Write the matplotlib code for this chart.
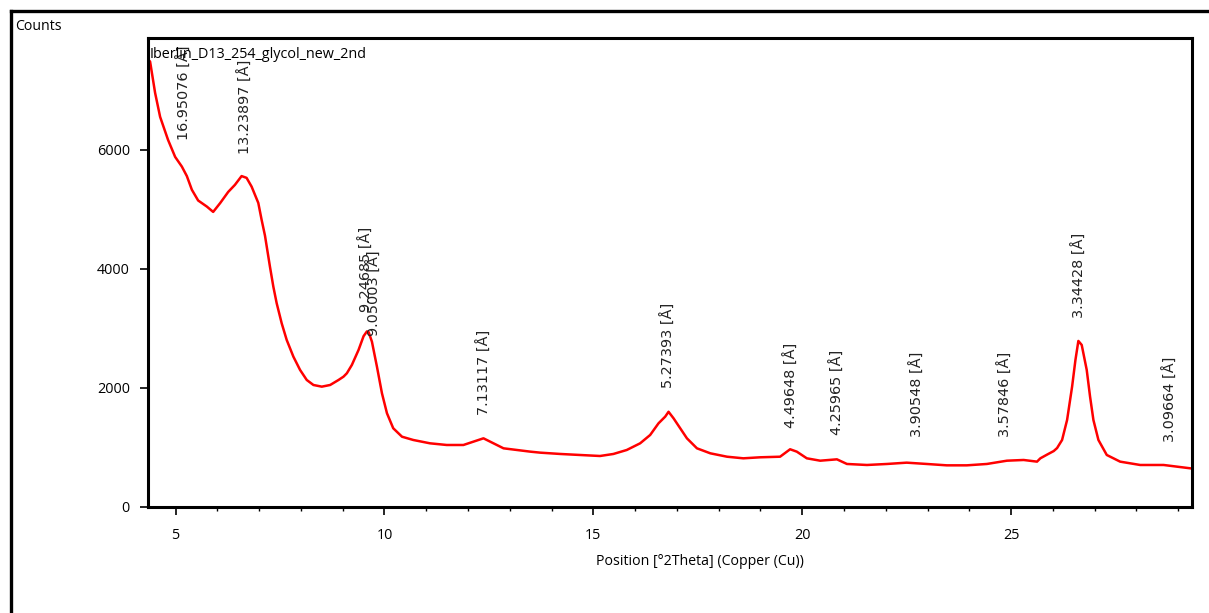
import matplotlib
matplotlib.use("Agg")
import matplotlib.pyplot as plt
from matplotlib.lines import Line2D
from matplotlib.ticker import MultipleLocator

# diffractogram (2theta in degrees, counts)
two_theta = [4.34, 4.39, 4.51, 4.63, 4.82, 4.99, 5.15, 5.27, 5.39, 5.54, 5.75, 5.90,
             6.07, 6.26, 6.42, 6.58, 6.70, 6.82, 6.98, 7.06, 7.14, 7.26, 7.34, 7.42,
             7.54, 7.66, 7.82, 7.98, 8.14, 8.30, 8.50, 8.70, 8.90, 9.02, 9.10, 9.22,
             9.38, 9.50, 9.58, 9.62, 9.70, 9.82, 9.94, 10.06, 10.21, 10.42, 10.69,
             11.09, 11.49, 11.89, 12.13, 12.37, 12.61, 12.85, 13.17, 13.49, 13.73,
             14.21, 14.68, 15.16, 15.48, 15.80, 16.12, 16.36, 16.56, 16.72, 16.80,
             16.92, 17.08, 17.24, 17.48, 17.80, 18.20, 18.59, 18.99, 19.47, 19.71,
             19.87, 20.11, 20.43, 20.83, 21.07, 21.55, 22.03, 22.50, 22.98, 23.46,
             23.94, 24.42, 24.90, 25.30, 25.62, 25.70, 25.86, 26.02, 26.10, 26.22,
             26.34, 26.46, 26.54, 26.61, 26.69, 26.81, 26.89, 26.97, 27.09, 27.29,
             27.61, 28.09, 28.65, 28.97, 29.29]
counts = [7520, 7484, 6958, 6555, 6168, 5882, 5720, 5560, 5330, 5150, 5047, 4958,
          5109, 5294, 5412, 5560, 5530, 5383, 5109, 4824, 4560, 4034, 3703, 3424,
          3087, 2807, 2526, 2303, 2134, 2050, 2022, 2050, 2134, 2190, 2247, 2387,
          2639, 2870, 2950, 2940, 2778, 2358, 1911, 1575, 1323, 1181, 1126,
          1070, 1042, 1042, 1098, 1154, 1070, 986, 958, 930, 913,
          891, 874, 857, 891, 958, 1070, 1210, 1406, 1518, 1600,
          1490, 1322, 1154, 986, 902, 845, 818, 835, 845, 970,
          930, 818, 778, 801, 723, 706, 723, 745, 723, 700,
          700, 723, 778, 790, 762, 818, 880, 940, 990, 1126,
          1462, 2022, 2471, 2790, 2723, 2303, 1854, 1462, 1126, 874,
          762, 706, 706, 678, 650]

# peak list: d-spacings, their 2theta positions and label heights (counts)
peak_d = ["16.95076", "13.23897", "9.24685", "9.05003", "7.13117", "5.27393",
          "4.49648", "4.25965", "3.90548", "3.57846", "3.34428", "3.09664"]
peak_pos = [5.209, 6.671, 9.557, 9.765, 12.402, 16.797,
            19.727, 20.837, 22.751, 24.861, 26.633, 28.807]
peak_counts = [5800, 5550, 2910, 2505, 1176, 1630,
               958, 840, 807, 807, 2807, 723]

plt.rcParams['font.family'] = ['Open Sans', 'DejaVu Sans']

fig = plt.figure(figsize=(12.09, 6.13), dpi=100)
ax = fig.add_axes([148 / 1209, 1 - 507 / 613, 1044 / 1209, 469 / 613])

ax.plot(two_theta, counts, color='#ff0000', lw=1.8)

for d, x, c in zip(peak_d, peak_pos, peak_counts):
    ax.annotate(d + " [Å]", xy=(x, c), xytext=(0, 16), textcoords='offset points',
                rotation=90, ha='center', va='bottom', fontsize=10.4,
                family='DejaVu Sans', color='#222222')

ax.set_xlim(4.34, 29.33)
ax.set_ylim(0, 7880)
ax.set_yticks([0, 2000, 4000, 6000])
ax.xaxis.set_major_locator(MultipleLocator(5))
ax.xaxis.set_minor_locator(MultipleLocator(1))

for sp in ax.spines.values():
    sp.set_linewidth(2.2)
ax.tick_params(axis='both', which='major', length=6, width=1.2, labelsize=10.4, pad=7)
ax.tick_params(axis='x', which='major', pad=9)
ax.tick_params(axis='x', which='minor', length=3, width=1.0)
ax.tick_params(axis='y', which='minor', length=0)

ax.set_xlabel("Position [°2Theta] (Copper (Cu))", fontsize=10.2)
ax.xaxis.set_label_coords(0.529, -0.1)

ax.text(0.002, 0.964, "Iberlin_D13_254_glycol_new_2nd", transform=ax.transAxes,
        ha='left', va='center', fontsize=10.4)
fig.text(15 / 1209, 1 - 26 / 613, "Counts", ha='left', va='center', fontsize=10.2)

# outer frame, cut off at the right and bottom edges
fx, fy = 11 / 1209, 1 - 11 / 613
fig.add_artist(Line2D([fx, 1.0], [fy, fy], color='black', lw=2.4, transform=fig.transFigure))
fig.add_artist(Line2D([fx, fx], [fy, 0.0], color='black', lw=2.4, transform=fig.transFigure))

fig.savefig("out.png", dpi=100)
